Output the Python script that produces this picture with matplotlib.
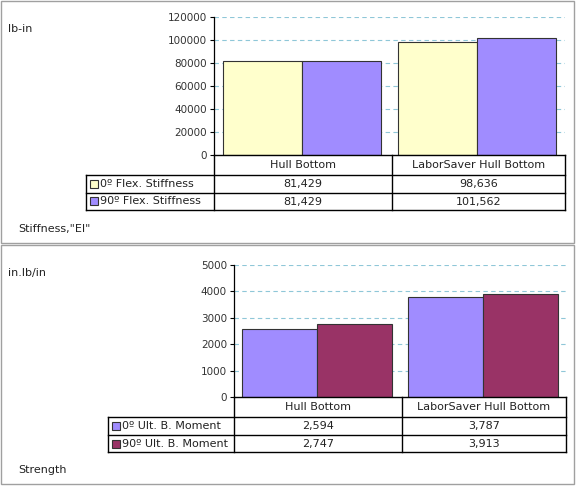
import matplotlib

matplotlib.use('Agg')
import matplotlib.pyplot as plt
from matplotlib.patches import Rectangle
from matplotlib.lines import Line2D

W, H = 576, 486

categories = ['Hull Bottom', 'LaborSaver Hull Bottom']

stiff_series = ['0º Flex. Stiffness', '90º Flex. Stiffness']
stiff_0 = [81429, 98636]
stiff_90 = [81429, 101562]
stiff_ticks = [0, 20000, 40000, 60000, 80000, 100000, 120000]

strength_series = ['0º Ult. B. Moment', '90º Ult. B. Moment']
strength_0 = [2594, 3787]
strength_90 = [2747, 3913]
strength_ticks = [0, 1000, 2000, 3000, 4000, 5000]

FS = 8
fig = plt.figure(figsize=(W / 100, H / 100), dpi=100)


def fx(x):
    return x / W


def fy(y):
    return 1 - y / H


def hline(x0, x1, y, color='black', lw=1.0):
    fig.add_artist(Line2D([fx(x0), fx(x1)], [fy(y), fy(y)], color=color, lw=lw,
                          transform=fig.transFigure))


def vline(x, y0, y1, color='black', lw=1.0):
    fig.add_artist(Line2D([fx(x), fx(x)], [fy(y0), fy(y1)], color=color, lw=lw,
                          transform=fig.transFigure))


def panel(box, ax_box, table_left, ticks, series, vals, colors, unit, footer):
    # outer frame (x0, y0, x1, y1) in pixels
    bx0, by0, bx1, by1 = box
    fig.add_artist(Rectangle((fx(bx0), fy(by1)), fx(bx1 - bx0), (by1 - by0) / H,
                             transform=fig.transFigure, fill=False,
                             edgecolor='#a0a0a0', lw=1.0))
    ax0, ay0, ax1, ay1 = ax_box
    ax = fig.add_axes([fx(ax0), fy(ay1), fx(ax1 - ax0), (ay1 - ay0) / H])
    n = len(categories)
    bw = 0.45
    for i in range(n):
        ax.bar(i - bw / 2, vals[0][i], width=bw, color=colors[0],
               edgecolor='#333333', linewidth=0.8)
        ax.bar(i + bw / 2, vals[1][i], width=bw, color=colors[1],
               edgecolor='#333333', linewidth=0.8)
    ax.set_xlim(-0.5, n - 0.5)
    ax.set_ylim(ticks[0], ticks[-1])
    ax.set_yticks(ticks)
    ax.set_yticklabels([str(t) for t in ticks], fontsize=FS - 0.5, color='#333333')
    ax.set_xticks([])
    for t in ticks[1:]:
        ax.axhline(t, color='#8fc7d8', lw=0.8, ls=(0, (4, 3)), zorder=0)
    for s in ['top', 'right', 'bottom']:
        ax.spines[s].set_visible(False)
    ax.spines['left'].set_linewidth(0.9)
    ax.tick_params(axis='y', length=3, width=0.8, pad=2)
    ax.set_facecolor('none')

    # data table below the axis
    r0 = ay1
    r1 = r0 + 20
    r2 = r1 + 18
    r3 = r2 + 17
    xm = (ax0 + ax1) / 2 + 2
    hline(ax0, ax1, r0)
    hline(table_left, ax1, r1)
    hline(table_left, ax1, r2)
    hline(table_left, ax1, r3)
    vline(ax0, r0, r3)
    vline(xm, r0, r3)
    vline(ax1, r0, r3)
    vline(table_left, r1, r3)
    cx = [(ax0 + xm) / 2, (xm + ax1) / 2]
    for i, c in enumerate(categories):
        fig.text(fx(cx[i]), fy((r0 + r1) / 2), c, ha='center', va='center',
                 fontsize=FS, color='#222222')
    for j, (lab, v, col) in enumerate(zip(series, vals, colors)):
        yc = ((r1, r2), (r2, r3))[j]
        ym = (yc[0] + yc[1]) / 2
        fig.add_artist(Rectangle((fx(table_left + 4), fy(ym + 4)), fx(8), 8 / H,
                                 transform=fig.transFigure, facecolor=col,
                                 edgecolor='#333333', lw=0.8))
        fig.text(fx(table_left + 14), fy(ym), lab, ha='left', va='center',
                 fontsize=FS, color='#222222')
        for i in range(n):
            fig.text(fx(cx[i]), fy(ym), f'{v[i]:,}', ha='center', va='center',
                     fontsize=FS, color='#222222')
    fig.text(fx(bx0 + 7), fy(by0 + 28), unit, ha='left', va='center',
             fontsize=FS, color='#222222')
    fig.text(fx(bx0 + 17), fy(by1 - 14), footer, ha='left', va='center',
             fontsize=FS, color='#222222')


panel((1, 1, 574, 243), (214, 17, 565, 155), 86, stiff_ticks, stiff_series,
      [stiff_0, stiff_90], ['#ffffcc', '#a08cff'], 'lb-in', 'Stiffness,"EI"')
panel((1, 245, 574, 484), (234, 265, 566, 397), 108, strength_ticks,
      strength_series, [strength_0, strength_90], ['#a08cff', '#993366'],
      'in.lb/in', 'Strength')

fig.savefig('out.png', dpi=100)
